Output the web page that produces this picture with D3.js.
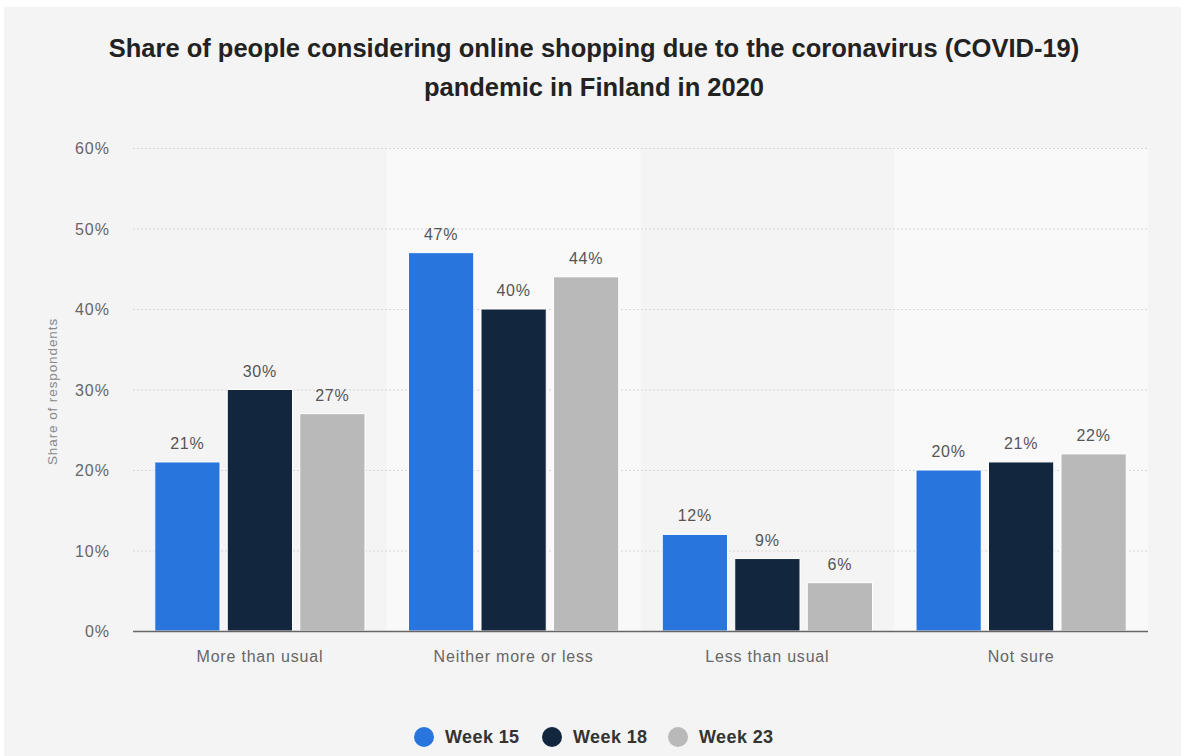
<!DOCTYPE html>
<html>
<head>
<meta charset="utf-8">
<script src="https://cdn.jsdelivr.net/npm/d3@7"></script>
<style>
  html, body { margin: 0; padding: 0; background: #ffffff; }
  svg { display: block; font-family: "Liberation Sans", Arial, Helvetica, sans-serif; }
</style>
</head>
<body>
<svg id="chart" width="1186" height="756"></svg>
<script>
// Survey answers and the three survey rounds
const categories = ["More than usual", "Neither more or less", "Less than usual", "Not sure"];
const seriesNames = ["Week 15", "Week 18", "Week 23"];
const week15 = [21, 47, 12, 20];
const week18 = [30, 40, 9, 21];
const week23 = [27, 44, 6, 22];
const yTicks = [0, 10, 20, 30, 40, 50, 60];
const colors = ["#2876dd", "#12263d", "#b9b9b9"];

const series = [week15, week18, week23];

const svg = d3.select("#chart");
const W = 1186, H = 756;
const margin = { left: 133, right: 1148, top: 148, bottom: 631 };

// panel background
svg.append("rect").attr("x", 4).attr("y", 7).attr("width", 1177).attr("height", H - 7)
  .attr("fill", "#f4f4f4");

const x0 = d3.scaleBand().domain(categories).range([margin.left, margin.right]).padding(0);
const y = d3.scaleLinear().domain([0, 60]).range([margin.bottom, margin.top]);
const x1 = d3.scaleBand().domain(seriesNames).range([0, x0.bandwidth()])
  .paddingInner(0.1).paddingOuter(0.3);

// alternating band shading
svg.append("g").selectAll("rect")
  .data(categories.filter((d, i) => i % 2 === 1))
  .join("rect")
  .attr("x", d => x0(d))
  .attr("y", y(60))
  .attr("width", x0.bandwidth())
  .attr("height", y(0) - y(60))
  .attr("fill", "#f9f9f9");

// gridlines
svg.append("g").selectAll("line")
  .data(yTicks.filter(t => t > 0))
  .join("line")
  .attr("x1", margin.left).attr("x2", margin.right)
  .attr("y1", d => y(d) + 0.5).attr("y2", d => y(d) + 0.5)
  .attr("stroke", "#d6d6d6").attr("stroke-width", 1)
  .attr("stroke-dasharray", "2,2");

// y axis labels
const yAxis = d3.axisLeft(y).tickValues(yTicks).tickFormat(d => d + "%").tickSize(0).tickPadding(0);
const gy = svg.append("g").attr("transform", "translate(110,0)").call(yAxis);
gy.select(".domain").remove();
gy.selectAll("text").attr("fill", "#666").attr("font-size", "16px")
  .attr("letter-spacing", "1px")
  .attr("font-family", "Liberation Sans, Arial, sans-serif").attr("dy", "0.35em");

// y axis title
svg.append("text")
  .attr("transform", `translate(57,${(margin.top + margin.bottom) / 2 + 2}) rotate(-90)`)
  .attr("text-anchor", "middle")
  .attr("fill", "#888").attr("font-size", "13.5px").attr("letter-spacing", "0.9px")
  .text("Share of respondents");

// bars
const groups = svg.append("g").selectAll("g")
  .data(categories)
  .join("g")
  .attr("transform", d => `translate(${x0(d)},0)`);

groups.selectAll("rect")
  .data((c, ci) => seriesNames.map((s, si) => ({ s, si, v: series[si][ci] })))
  .join("rect")
  .attr("x", d => x1(d.s))
  .attr("y", d => y(d.v))
  .attr("width", x1.bandwidth())
  .attr("height", d => y(0) - y(d.v))
  .attr("fill", d => colors[d.si])
  .attr("stroke", "#ffffff").attr("stroke-width", 1);

// value labels
groups.selectAll("text")
  .data((c, ci) => seriesNames.map((s, si) => ({ s, si, v: series[si][ci] })))
  .join("text")
  .attr("x", d => x1(d.s) + x1.bandwidth() / 2)
  .attr("y", d => y(d.v) - 13)
  .attr("text-anchor", "middle")
  .attr("fill", "#555").attr("font-size", "16px").attr("letter-spacing", "0.8px")
  .text(d => d.v + "%");

// baseline
svg.append("line")
  .attr("x1", margin.left).attr("x2", margin.right)
  .attr("y1", y(0) + 0.5).attr("y2", y(0) + 0.5)
  .attr("stroke", "#666").attr("stroke-width", 1.5);

// x axis labels
const xAxis = d3.axisBottom(x0).tickSize(0).tickPadding(0);
const gx = svg.append("g").attr("transform", `translate(0,${y(0) + 20})`).call(xAxis);
gx.select(".domain").remove();
gx.selectAll("text").attr("fill", "#666").attr("font-size", "16px")
  .attr("letter-spacing", "0.8px")
  .attr("font-family", "Liberation Sans, Arial, sans-serif");

// title
const title = svg.append("text").attr("text-anchor", "middle")
  .attr("font-weight", "bold").attr("font-size", "25.5px").attr("fill", "#222");
title.append("tspan").attr("x", 594).attr("y", 57)
  .text("Share of people considering online shopping due to the coronavirus (COVID-19)");
title.append("tspan").attr("x", 594).attr("y", 96)
  .text("pandemic in Finland in 2020");

// legend
const legendX = [424, 552, 678];
const legend = svg.append("g").selectAll("g")
  .data(seriesNames)
  .join("g")
  .attr("transform", (d, i) => `translate(${legendX[i]},737)`);
legend.append("circle").attr("r", 10).attr("fill", (d, i) => colors[i]);
legend.append("text").attr("x", 21).attr("dy", "0.35em")
  .attr("font-weight", "bold").attr("font-size", "18px").attr("letter-spacing", "0.4px")
  .attr("fill", "#333")
  .text(d => d);
</script>
</body>
</html>
